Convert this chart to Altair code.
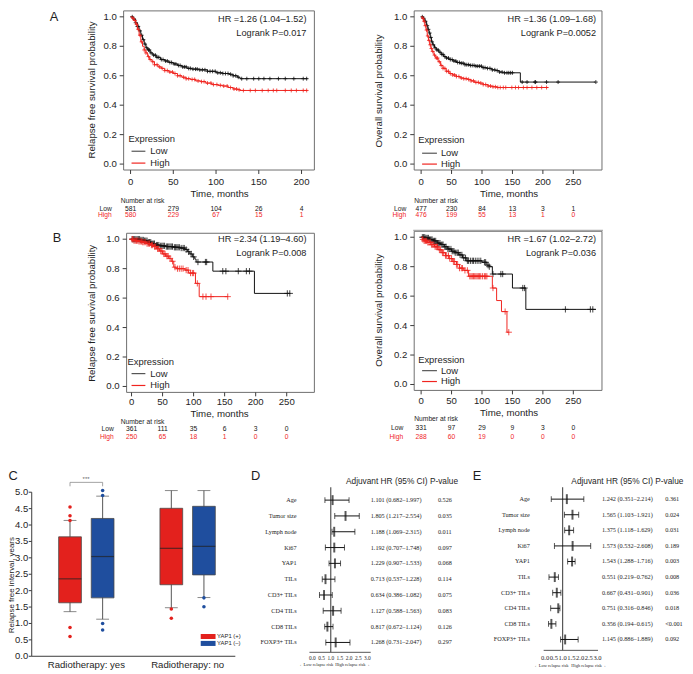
import altair as alt
import numpy as np
import pandas as pd

W, H, M = 685, 666, 8
SANS = "Liberation Sans"
SERIF = "Liberation Serif"
KM_RED = "#f0241f"
KM_BLACK = "#111111"
FRAME = "#6e6e6e"
AX = "#3a3a3a"
TXT = "#1e1e1e"
BOX_RED = "#e3211d"
BOX_BLUE = "#1f4e9e"
PLUS = "M-1,0L1,0M0,-1L0,1"


def P(v):
    return v - M

# ======================= DATA =======================
# ---- Panel A left: relapse free survival ----
a1_low_t = [0, 3, 6, 8, 10, 12, 14, 16, 18, 20, 23, 26, 30, 35, 40, 45, 50, 55, 60, 66, 72, 80, 90, 100, 108, 115, 120, 125, 128, 207]
a1_low_s = [1.0, 0.985, 0.96, 0.935, 0.905, 0.875, 0.845, 0.815, 0.79, 0.775, 0.755, 0.74, 0.725, 0.71, 0.70, 0.69, 0.68, 0.67, 0.66, 0.65, 0.645, 0.64, 0.63, 0.62, 0.615, 0.61, 0.60, 0.59, 0.58, 0.58]
a1_low_cens = [2, 4, 6, 8, 9, 11, 13, 15, 17, 19, 21, 22, 24, 27, 29, 31, 33, 36, 38, 41, 43, 46, 48, 51, 53, 56, 58, 61, 63, 65, 68, 70, 73, 76, 78, 81, 84, 87, 90, 93, 96, 99, 102, 105, 108, 111, 114, 117, 120, 123, 126, 130, 136, 144, 150, 156, 163, 173, 181, 191, 202, 206]
a1_high_t = [0, 2, 4, 6, 8, 10, 12, 14, 16, 18, 20, 22, 25, 28, 32, 36, 40, 45, 50, 55, 60, 65, 70, 76, 82, 88, 95, 102, 108, 114, 120, 125, 128, 207]
a1_high_s = [1.0, 0.99, 0.975, 0.95, 0.915, 0.875, 0.83, 0.80, 0.775, 0.755, 0.73, 0.71, 0.695, 0.675, 0.66, 0.65, 0.635, 0.625, 0.615, 0.60, 0.59, 0.58, 0.575, 0.565, 0.56, 0.55, 0.54, 0.535, 0.53, 0.52, 0.51, 0.505, 0.50, 0.50]
a1_high_cens = [3, 5, 7, 9, 11, 13, 16, 18, 21, 23, 26, 28, 31, 34, 37, 40, 43, 46, 49, 52, 55, 58, 62, 65, 68, 72, 75, 79, 83, 86, 90, 94, 97, 101, 105, 109, 113, 117, 121, 124, 127, 132, 140, 146, 154, 161, 167, 171, 181, 188, 194, 202, 206]
a1_risk_t = [0, 50, 100, 150, 200]
a1_risk_low = [581, 279, 104, 26, 4]
a1_risk_high = [580, 229, 67, 15, 1]

# ---- Panel A right: overall survival ----
a2_low_t = [0, 3, 6, 9, 11, 13, 15, 17, 19, 22, 25, 29, 33, 37, 41, 46, 52, 58, 64, 72, 80, 90, 100, 108, 116, 122, 128, 134, 163, 286]
a2_low_s = [1.0, 0.99, 0.97, 0.94, 0.915, 0.89, 0.86, 0.83, 0.81, 0.79, 0.775, 0.76, 0.745, 0.73, 0.72, 0.71, 0.70, 0.69, 0.685, 0.675, 0.67, 0.665, 0.655, 0.65, 0.64, 0.635, 0.625, 0.62, 0.557, 0.557]
a2_low_cens = [2, 4, 7, 10, 12, 14, 16, 18, 20, 23, 26, 28, 31, 34, 36, 39, 42, 45, 48, 51, 54, 57, 60, 63, 66, 69, 72, 75, 78, 81, 84, 87, 90, 93, 96, 99, 102, 105, 109, 113, 117, 121, 125, 129, 133, 137, 141, 144, 147, 150, 166, 174, 187, 188, 206, 225, 287]
a2_high_t = [0, 2, 4, 6, 8, 10, 12, 14, 16, 18, 21, 24, 28, 32, 36, 41, 46, 52, 58, 64, 70, 76, 82, 88, 95, 102, 110, 117, 125, 209]
a2_high_s = [1.0, 0.99, 0.97, 0.94, 0.91, 0.87, 0.84, 0.81, 0.785, 0.765, 0.74, 0.72, 0.695, 0.67, 0.65, 0.63, 0.615, 0.605, 0.595, 0.585, 0.58, 0.575, 0.565, 0.555, 0.55, 0.54, 0.53, 0.525, 0.52, 0.52]
a2_high_cens = [3, 5, 7, 9, 11, 13, 15, 17, 19, 22, 25, 27, 30, 33, 36, 39, 42, 45, 48, 52, 55, 58, 62, 66, 70, 74, 78, 82, 86, 90, 94, 98, 102, 106, 110, 114, 118, 122, 126, 130, 135, 139, 149, 155, 160, 168, 174, 182, 190, 198, 206]
a2_risk_t = [0, 50, 100, 150, 200, 250]
a2_risk_low = [477, 230, 84, 13, 3, 1]
a2_risk_high = [476, 199, 55, 13, 1, 0]

# ---- Panel B left: relapse free survival ----
b1_low_t = [0, 14, 20, 26, 32, 38, 45, 55, 68, 78, 86, 90, 94, 98, 102, 104, 131, 198, 255]
b1_low_s = [1.0, 0.995, 0.99, 0.98, 0.97, 0.96, 0.955, 0.95, 0.945, 0.94, 0.93, 0.915, 0.90, 0.88, 0.865, 0.845, 0.783, 0.632, 0.632]
b1_low_cens = [1, 3, 5, 7, 9, 11, 13, 15, 17, 19, 21, 23, 25, 27, 29, 31, 33, 35, 37, 40, 42, 44, 47, 49, 51, 53, 56, 58, 60, 62, 64, 66, 69, 71, 73, 75, 77, 80, 83, 85, 88, 92, 96, 100, 107, 119, 121, 147, 152, 172, 185, 190, 251, 255]
b1_high_t = [0, 3, 12, 18, 24, 30, 35, 40, 45, 50, 55, 60, 64, 68, 72, 86, 92, 103, 109, 155]
b1_high_s = [1.0, 0.99, 0.985, 0.98, 0.97, 0.96, 0.95, 0.935, 0.92, 0.90, 0.885, 0.87, 0.85, 0.81, 0.80, 0.79, 0.77, 0.70, 0.61, 0.61]
b1_high_cens = [1, 2, 4, 6, 8, 10, 12, 14, 16, 18, 20, 22, 25, 27, 29, 32, 34, 37, 39, 42, 44, 47, 49, 52, 54, 57, 59, 62, 66, 70, 74, 77, 80, 83, 88, 91, 95, 98, 100, 106, 115, 120, 128, 155]
b1_risk_t = [0, 50, 100, 150, 200, 250]
b1_risk_low = [361, 111, 35, 6, 3, 0]
b1_risk_high = [250, 65, 18, 1, 0, 0]

# ---- Panel B right: overall survival ----
b2_low_t = [0, 8, 14, 20, 26, 32, 38, 44, 50, 56, 62, 68, 74, 100, 108, 112, 117, 150, 172, 287]
b2_low_s = [1.0, 0.995, 0.985, 0.975, 0.96, 0.95, 0.935, 0.92, 0.905, 0.895, 0.88, 0.86, 0.84, 0.83, 0.81, 0.80, 0.75, 0.655, 0.51, 0.51]
b2_low_cens = [2, 4, 6, 8, 10, 12, 14, 16, 18, 20, 22, 24, 27, 29, 31, 34, 36, 39, 41, 44, 46, 49, 51, 54, 56, 59, 61, 64, 67, 70, 73, 76, 78, 81, 84, 86, 89, 92, 95, 98, 104, 106, 110, 112, 118, 131, 134, 167, 170, 237, 278, 282]
b2_high_t = [0, 2, 5, 10, 16, 22, 28, 34, 40, 46, 52, 58, 63, 70, 78, 117, 124, 132, 141, 144]
b2_high_s = [1.0, 0.985, 0.975, 0.965, 0.95, 0.935, 0.915, 0.895, 0.875, 0.855, 0.835, 0.815, 0.79, 0.775, 0.735, 0.655, 0.57, 0.495, 0.355, 0.355]
b2_high_cens = [3, 5, 7, 9, 11, 13, 15, 17, 19, 21, 23, 25, 27, 30, 32, 35, 37, 40, 42, 45, 47, 50, 53, 55, 58, 60, 63, 66, 68, 72, 76, 80, 82, 84, 86, 88, 90, 92, 94, 96, 98, 101, 104, 106, 108, 118, 138, 144]
b2_risk_t = [0, 50, 100, 150, 200, 250]
b2_risk_low = [331, 97, 29, 9, 3, 0]
b2_risk_high = [288, 60, 19, 0, 0, 0]

km_yticks = [0.0, 0.2, 0.4, 0.6, 0.8, 1.0]

# ---- Panel C: box plot summaries ----
c_categories = ["Radiotherapy: yes", "Radiotherapy: no"]
c_levels = ["YAP1 (+)", "YAP1 (\u2013)"]
c_group = ["Radiotherapy: yes", "Radiotherapy: yes", "Radiotherapy: no", "Radiotherapy: no"]
c_status = ["YAP1 (+)", "YAP1 (\u2013)", "YAP1 (+)", "YAP1 (\u2013)"]
c_whislo = [1.36, 1.13, 1.48, 1.79]
c_q1 = [1.63, 1.78, 2.18, 2.48]
c_med = [2.36, 3.04, 3.29, 3.35]
c_q3 = [3.64, 4.20, 4.51, 4.57]
c_whishi = [4.14, 4.88, 5.05, 5.05]
c_out_group = ["Radiotherapy: yes"] * 9 + ["Radiotherapy: no"] * 4
c_out_status = ["YAP1 (+)"] * 5 + ["YAP1 (\u2013)"] * 4 + ["YAP1 (+)"] * 2 + ["YAP1 (\u2013)"] * 2
c_out_value = [4.55, 4.28, 4.14, 0.875, 0.60, 5.05, 4.90, 1.00, 0.80, 1.44, 1.16, 1.78, 1.51]
c_sig_status = ["YAP1 (+)", "YAP1 (+)", "YAP1 (\u2013)", "YAP1 (\u2013)"]
c_sig_value = [5.18, 5.30, 5.30, 5.18]
c_yticks = [0.0, 0.5, 1.0, 1.5, 2.0, 2.5, 3.0, 3.5, 4.0, 4.5, 5.0]

# ---- Panels D & E: forest plots ----
f_labels = ["Age", "Tumor size", "Lymph node", "Ki67", "YAP1", "TILs", "CD3+ TILs", "CD4 TILs", "CD8 TILs", "FOXP3+ TILs"]
d_hr = [1.101, 1.805, 1.188, 1.192, 1.229, 0.713, 0.634, 1.127, 0.817, 1.268]
d_lo = [0.682, 1.217, 1.069, 0.707, 0.907, 0.537, 0.386, 0.588, 0.672, 0.731]
d_hi = [1.997, 2.554, 2.315, 1.748, 1.533, 1.228, 1.082, 1.563, 1.124, 2.047]
d_p = ["0.526", "0.035", "0.011", "0.097", "0.068", "0.114", "0.075", "0.083", "0.126", "0.297"]
e_hr = [1.242, 1.565, 1.375, 1.573, 1.543, 0.551, 0.667, 0.751, 0.356, 1.145]
e_lo = [0.351, 1.103, 1.118, 0.532, 1.288, 0.219, 0.431, 0.316, 0.194, 0.886]
e_hi = [2.214, 1.921, 1.629, 2.608, 1.716, 0.762, 0.901, 0.846, 0.615, 1.889]
e_p = ["0.361", "0.024", "0.031", "0.189", "0.003", "0.008", "0.036", "0.018", "<0.001", "0.092"]
f_ticks = [0.0, 0.5, 1.0, 1.5, 2.0, 2.5, 3.0]


# ======================= HELPERS =======================
def label(text, x, y, size, color=TXT, align="left", font=SANS, baseline="middle", angle=0):
    return alt.Chart(pd.DataFrame({"t": [text]})).mark_text(
        align=align, baseline=baseline, fontSize=size, font=font, color=color, angle=angle
    ).encode(x=alt.value(P(x)), y=alt.value(P(y)), text="t:N")


def hline(x1, x2, y, color, width=1.0):
    return alt.Chart(pd.DataFrame({"k": [0]})).mark_rule(color=color, strokeWidth=width).encode(
        x=alt.value(P(x1)), x2=alt.value(P(x2)), y=alt.value(P(y)))


def on_curve(ts, ss, cens):
    idx = np.searchsorted(np.array(ts), np.array(cens), side="right") - 1
    return [ss[max(i, 0)] for i in idx]


def x_axis(values, xs, y_line, tick_len, label_y, size, font=SANS, fmt="d", color=AX):
    df = pd.DataFrame({"v": values})
    out = []
    if tick_len > 0:
        out.append(alt.Chart(df).mark_rule(color=color, strokeWidth=1).encode(
            x=alt.X("v:Q", scale=xs, axis=None), y=alt.value(P(y_line)), y2=alt.value(P(y_line + tick_len))))
    out.append(alt.Chart(df).mark_text(fontSize=size, font=font, color=TXT, align="center", baseline="middle").encode(
        x=alt.X("v:Q", scale=xs, axis=None), y=alt.value(P(label_y)), text=alt.Text("v:Q", format=fmt)))
    return out


def y_axis(values, ys, x_line, tick_len, label_x, size, fmt=".1f", line=False):
    df = pd.DataFrame({"v": values})
    out = []
    if line:
        ldf = pd.DataFrame({"a": [min(values)], "b": [max(values)]})
        out.append(alt.Chart(ldf).mark_rule(color=AX, strokeWidth=1).encode(
            x=alt.value(P(x_line)), y=alt.Y("a:Q", scale=ys, axis=None), y2="b:Q"))
    out.append(alt.Chart(df).mark_rule(color=AX, strokeWidth=1).encode(
        y=alt.Y("v:Q", scale=ys, axis=None), x=alt.value(P(x_line - tick_len)), x2=alt.value(P(x_line))))
    out.append(alt.Chart(df).mark_text(fontSize=size, font=SANS, color=TXT, align="right", baseline="middle").encode(
        y=alt.Y("v:Q", scale=ys, axis=None), x=alt.value(P(label_x)), text=alt.Text("v:Q", format=fmt)))
    return out


def km_panel(p):
    L, R, T, B = p["frame"]
    x0, xv, V = p["xt"]
    y1, y0 = p["yt"]
    ppm = (xv - x0) / V
    xdom = [(L - x0) / ppm, (R - x0) / ppm]
    ppu = y0 - y1
    ydom = [(y0 - B) / ppu, (y0 - T) / ppu]
    xs = alt.Scale(domain=xdom, range=[P(L), P(R)], nice=False, zero=False)
    ys = alt.Scale(domain=ydom, range=[P(B), P(T)], nice=False, zero=False)
    frame = pd.DataFrame({"x": [xdom[0]], "x2": [xdom[1]], "y": [ydom[0]], "y2": [ydom[1]]})
    layers = [alt.Chart(frame).mark_rect(fillOpacity=0, stroke=FRAME, strokeWidth=1).encode(
        x=alt.X("x:Q", scale=xs, axis=None), x2="x2:Q",
        y=alt.Y("y:Q", scale=ys, axis=None), y2="y2:Q")]
    layers += x_axis(p["ticks"], xs, B, 4, p["tly"], 9.7)
    layers += y_axis(km_yticks, ys, L, 4, L - 7, 9.7)
    for ts, ss, cens, col in p["curves"]:
        ldf = pd.DataFrame({"t": ts, "s": ss})
        layers.append(alt.Chart(ldf).mark_line(interpolate="step-after", color=col, strokeWidth=1).encode(
            x=alt.X("t:Q", scale=xs, axis=None), y=alt.Y("s:Q", scale=ys, axis=None)))
        cdf = pd.DataFrame({"t": cens, "s": on_curve(ts, ss, cens)})
        layers.append(alt.Chart(cdf).mark_point(shape=PLUS, size=p["csize"], color=col, filled=False,
                                                strokeWidth=0.8, opacity=1).encode(
            x=alt.X("t:Q", scale=xs, axis=None), y=alt.Y("s:Q", scale=ys, axis=None)))
    for vals, col, yrow in p["risk"]:
        rdf = pd.DataFrame({"t": p["risk_t"], "n": vals})
        layers.append(alt.Chart(rdf).mark_text(fontSize=6.8, font=SANS, color=col, align="center",
                                               baseline="middle").encode(
            x=alt.X("t:Q", scale=xs, axis=None), y=alt.value(P(yrow)), text="n:N"))
    return alt.layer(*layers)


def km_annotations(p):
    out = []
    hx, hy1, hy2 = p["hr"]
    out.append(label(p["hr_text"], hx, hy1, 9.3, align="right"))
    out.append(label(p["lr_text"], hx, hy2, 9.3, align="right"))
    ex, ey, ly, hy, lx1, lx2, tx = p["legend"]
    out.append(label("Expression", ex, ey, 9.5))
    out.append(hline(lx1, lx2, ly, "#555555", 1.2))
    out.append(hline(lx1, lx2, hy, KM_RED, 1.2))
    out.append(label("Low", tx, ly, 9.5))
    out.append(label("High", tx, hy, 9.5))
    nx, ny, rx = p["riskhead"]
    out.append(label("Number at risk", nx, ny, 6.8))
    out.append(label("Low", rx, p["risk"][0][2], 6.8, align="right"))
    out.append(label("High", rx, p["risk"][1][2], 6.8, color=KM_RED, align="right"))
    out.append(label("Time, months", p["xtitle"][0], p["xtitle"][1], 9.8, align="center"))
    out.append(label(p["ylab"], p["ytitle"][0], p["ytitle"][1], 9.8, align="center", angle=270))
    return out


panels = [
    dict(frame=(125, 318, 7, 168), xt=(132, 305, 200), yt=(13, 162), ticks=[0, 50, 100, 150, 200], tly=180,
         ylab="Relapse free survival probability", ytitle=(93, 87), xtitle=(222, 192), csize=16,
         curves=[(a1_low_t, a1_low_s, a1_low_cens, KM_BLACK), (a1_high_t, a1_high_s, a1_high_cens, KM_RED)],
         risk_t=a1_risk_t, risk=[(a1_risk_low, KM_BLACK, 207), (a1_risk_high, KM_RED, 214)],
         hr=(310, 15, 29), hr_text="HR =1.26 (1.04\u20131.52)", lr_text="Logrank P=0.017",
         legend=(130, 137, 149, 161, 133, 147, 152), riskhead=(122, 199, 113)),
    dict(frame=(419, 609, 7, 168), xt=(426, 580, 250), yt=(13, 162), ticks=[0, 50, 100, 150, 200, 250], tly=180,
         ylab="Overall survival probability", ytitle=(383, 88), xtitle=(515, 192), csize=16,
         curves=[(a2_low_t, a2_low_s, a2_low_cens, KM_BLACK), (a2_high_t, a2_high_s, a2_high_cens, KM_RED)],
         risk_t=a2_risk_t, risk=[(a2_risk_low, KM_BLACK, 207), (a2_risk_high, KM_RED, 214)],
         hr=(603, 15, 29), hr_text="HR =1.36 (1.09\u20131.68)", lr_text="Logrank P=0.0052",
         legend=(423, 138, 151, 162, 427, 442, 446), riskhead=(419, 199, 411)),
    dict(frame=(128, 318, 232, 393), xt=(133, 290, 250), yt=(238, 387), ticks=[0, 50, 100, 150, 200, 250], tly=403,
         ylab="Relapse free survival probability", ytitle=(93, 313), xtitle=(222, 414.5), csize=40,
         curves=[(b1_low_t, b1_low_s, b1_low_cens, KM_BLACK), (b1_high_t, b1_high_s, b1_high_cens, KM_RED)],
         risk_t=b1_risk_t, risk=[(b1_risk_low, KM_BLACK, 430), (b1_risk_high, KM_RED, 438)],
         hr=(310, 238, 252), hr_text="HR =2.34 (1.19\u20134.60)", lr_text="Logrank P=0.008",
         legend=(129, 362, 374, 386, 133, 147, 152), riskhead=(122, 422.5, 115)),
    dict(frame=(419, 609, 230, 391), xt=(426, 580, 250), yt=(236, 385), ticks=[0, 50, 100, 150, 200, 250], tly=402,
         ylab="Overall survival probability", ytitle=(383, 310), xtitle=(515, 414), csize=40,
         curves=[(b2_low_t, b2_low_s, b2_low_cens, KM_BLACK), (b2_high_t, b2_high_s, b2_high_cens, KM_RED)],
         risk_t=b2_risk_t, risk=[(b2_risk_low, KM_BLACK, 429), (b2_risk_high, KM_RED, 438)],
         hr=(603, 238, 252), hr_text="HR =1.67 (1.02\u20132.72)", lr_text="Logrank P=0.036",
         legend=(423, 360, 371, 382, 427, 442, 446), riskhead=(419, 420, 408)),
]

layers = []
for p in panels:
    layers.append(km_panel(p))
    layers.extend(km_annotations(p))
layers.append(hline(418, 610, 229, "#9a9a9a", 1))

# ======================= PANEL C =======================
c_df = pd.DataFrame({"group": c_group, "status": c_status, "lo": c_whislo, "q1": c_q1,
                     "med": c_med, "q3": c_q3, "hi": c_whishi})
o_df = pd.DataFrame({"group": c_out_group, "status": c_out_status, "v": c_out_value})
s_df = pd.DataFrame({"group": [c_categories[0]] * 4, "status": c_sig_status, "v": c_sig_value, "k": [0, 1, 2, 3]})
g_df = pd.DataFrame({"group": c_categories})

xs_c = alt.Scale(domain=c_categories, range=[P(32), P(241)], paddingInner=0, paddingOuter=0.0195, align=1)
xo_c = alt.Scale(domain=c_levels, paddingInner=0.303, paddingOuter=0.7045)
ys_c = alt.Scale(domain=[0, 5], range=[P(660), P(494)], nice=False, zero=False)
col_c = alt.Scale(domain=c_levels, range=[BOX_RED, BOX_BLUE])
leg_c = alt.Legend(orient="none", legendX=P(207.5), legendY=P(637), title=None,
                   symbolType="M-2.5,-0.85H2.5V0.85H-2.5Z", symbolSize=36, symbolStrokeWidth=0,
                   labelFontSize=6, labelFont=SANS, labelColor=TXT, labelOffset=6, rowPadding=1, padding=0)

cx = alt.X("group:N", scale=xs_c, axis=None)
cxo = alt.XOffset("status:N", scale=xo_c)
c_layers = [
    alt.Chart(c_df).mark_rule(color="#555555", strokeWidth=1).encode(
        x=cx, xOffset=cxo, y=alt.Y("lo:Q", scale=ys_c, axis=None), y2="hi:Q"),
    alt.Chart(c_df).mark_bar(stroke="#4a4a4a", strokeWidth=0.8).encode(
        x=cx, xOffset=cxo, y=alt.Y("q1:Q", scale=ys_c, axis=None), y2="q3:Q",
        color=alt.Color("status:N", scale=col_c, legend=leg_c)),
    alt.Chart(c_df).mark_tick(color="#222222", size=23, thickness=1.2).encode(
        x=cx, xOffset=cxo, y=alt.Y("med:Q", scale=ys_c, axis=None)),
    alt.Chart(c_df).mark_tick(color="#555555", size=13, thickness=1).encode(
        x=cx, xOffset=cxo, y=alt.Y("lo:Q", scale=ys_c, axis=None)),
    alt.Chart(c_df).mark_tick(color="#555555", size=13, thickness=1).encode(
        x=cx, xOffset=cxo, y=alt.Y("hi:Q", scale=ys_c, axis=None)),
    alt.Chart(o_df).mark_circle(size=13, opacity=1).encode(
        x=cx, xOffset=cxo, y=alt.Y("v:Q", scale=ys_c, axis=None),
        color=alt.Color("status:N", scale=col_c, legend=None)),
    alt.Chart(s_df).mark_line(color="#8a8a8a", strokeWidth=0.8).encode(
        x=cx, xOffset=cxo, y=alt.Y("v:Q", scale=ys_c, axis=None), order="k:Q"),
    alt.Chart(g_df).mark_text(fontSize=9.7, font=SANS, color=TXT, align="center", baseline="middle").encode(
        x=cx, y=alt.value(P(668.5)), text="group:N"),
]
c_layers += y_axis(c_yticks, ys_c, 32, 3, 28.5, 9.6, line=True)
layers.append(alt.layer(*c_layers))
layers.append(hline(32, 238, 660, AX, 1))
layers.append(label("***", 87, 481, 6, color="#666666", align="center"))
layers.append(label("Relapse free interval, years", 12, 588, 8, align="center", angle=270))


# ======================= PANELS D & E =======================
def forest(hr, lo, hi, pv, g):
    df = pd.DataFrame({"label": f_labels, "hr": hr, "lo": lo, "hi": hi, "p": pv})
    df["txt"] = [f"{h:.3f} ({a:.3f}\u2013{b:.3f})" for h, a, b in zip(hr, lo, hi)]
    xs = alt.Scale(domain=[0, 3], range=[P(g["xr"][0]), P(g["xr"][1])], nice=False, zero=False)
    ys = alt.Scale(type="point", domain=f_labels, range=[P(g["y0"]), P(g["y1"])], padding=0)
    yy = alt.Y("label:N", scale=ys, axis=None)
    ls = [
        alt.Chart(pd.DataFrame({"v": [1.0]})).mark_rule(color="#555555", strokeWidth=1.2).encode(
            x=alt.X("v:Q", scale=xs, axis=None), y=alt.value(P(g["vline"][0])), y2=alt.value(P(g["vline"][1]))),
        alt.Chart(df).mark_rule(color="#111111", strokeWidth=1).encode(
            x=alt.X("lo:Q", scale=xs, axis=None), x2="hi:Q", y=yy),
        alt.Chart(df).mark_tick(orient="vertical", size=6, thickness=1, color="#111111").encode(
            x=alt.X("lo:Q", scale=xs, axis=None), y=yy),
        alt.Chart(df).mark_tick(orient="vertical", size=6, thickness=1, color="#111111").encode(
            x=alt.X("hi:Q", scale=xs, axis=None), y=yy),
        alt.Chart(df).mark_tick(orient="vertical", size=10, thickness=2, color="#111111").encode(
            x=alt.X("hr:Q", scale=xs, axis=None), y=yy),
        alt.Chart(df).mark_text(align="right", baseline="middle", font=SERIF, fontSize=6.3, color=TXT).encode(
            x=alt.value(P(g["labx"])), y=yy, text="label:N"),
        alt.Chart(df).mark_text(align="left", baseline="middle", font=SERIF, fontSize=6.3, color=TXT).encode(
            x=alt.value(P(g["hrx"])), y=yy, text="txt:N"),
        alt.Chart(df).mark_text(align="left", baseline="middle", font=SERIF, fontSize=6.3, color=TXT).encode(
            x=alt.value(P(g["px"])), y=yy, text="p:N"),
    ]
    ls += x_axis(f_ticks, xs, g["axy"], 0, 662, g["tfs"], font=SERIF, fmt=".1f")
    out = [alt.layer(*ls)]
    out.append(hline(g["axline"][0], g["axline"][1], g["axy"], "#555555", 1))
    out.append(label("Adjuvant HR (95% CI) P-value", g["title"][0], g["title"][1], 8.4))
    out.append(label("\u2190Low relapse risk", g["arr"][0], g["arr"][2], 4.5, align="right", font=SERIF))
    out.append(label("High relapse risk\u2192", g["arr"][1], g["arr"][2], 4.5, align="left", font=SERIF))
    return out


layers.extend(forest(d_hr, d_lo, d_hi, d_p, dict(
    xr=(316, 371.7), y0=502, y1=646, axy=656, axline=(313, 375), vline=(489, 656), tfs=5.4,
    labx=300, hrx=375, px=443, title=(350, 483), arr=(337, 339, 669))))
layers.extend(forest(e_hr, e_lo, e_hi, e_p, dict(
    xr=(551.5, 604.5), y0=501, y1=643, axy=654, axline=(550, 605), vline=(489, 654), tfs=6.6,
    labx=536, hrx=609, px=673, title=(578, 483), arr=(575, 578, 670))))

# ======================= PANEL LETTERS =======================
layers.append(label("A", 54.5, 13, 13, align="center"))
layers.append(label("B", 57.5, 236.5, 13, align="center"))
layers.append(label("C", 8.5, 477.5, 13, align="left"))
layers.append(label("D", 258.5, 477.5, 13, align="center"))
layers.append(label("E", 482.5, 477.5, 13, align="center"))

chart = alt.layer(*layers).resolve_scale(x="independent", y="independent").properties(
    width=W, height=H, autosize=alt.AutoSizeParams(type="none"), padding=0
).configure_view(stroke=None)

chart.save("out.html", embed_options={"renderer": "svg", "actions": False})
